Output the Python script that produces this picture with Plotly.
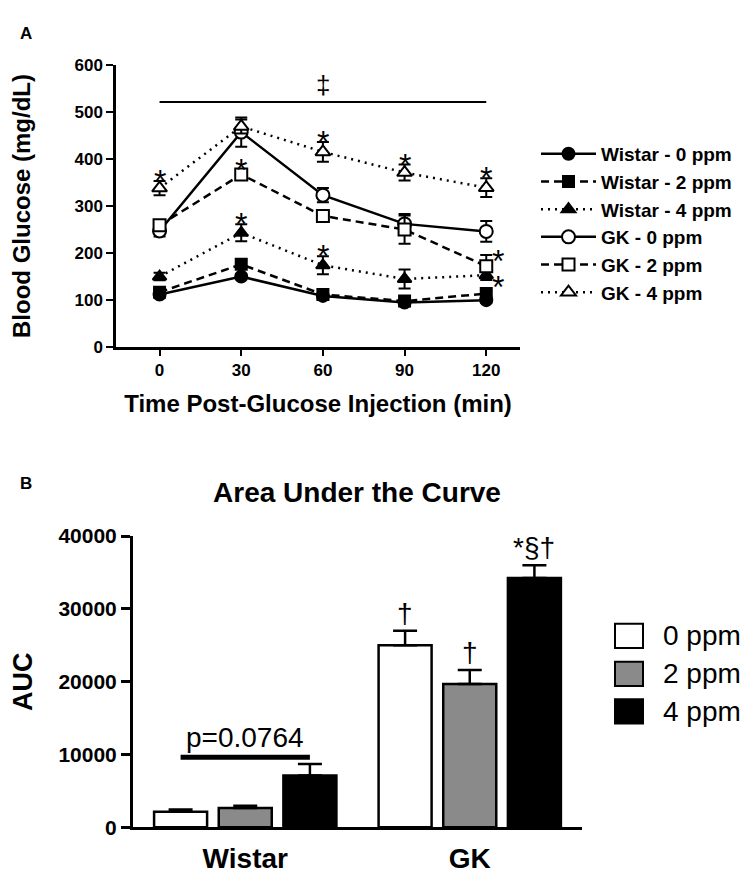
import plotly.graph_objects as go

# ---------------- Panel A data (Blood glucose, mg/dL) ----------------
time_min = [0, 30, 60, 90, 120]
series_names = ["Wistar - 0 ppm", "Wistar - 2 ppm", "Wistar - 4 ppm",
                "GK - 0 ppm", "GK - 2 ppm", "GK - 4 ppm"]
wistar_0 = [112, 150, 109, 95, 100]
wistar_0_sem = [5, 6, 5, 4, 5]
wistar_2 = [117, 176, 112, 98, 114]
wistar_2_sem = [6, 10, 6, 5, 6]
wistar_4 = [150, 243, 174, 145, 153]
wistar_4_sem = [8, 18, 19, 20, 10]
gk_0 = [247, 457, 323, 262, 246]
gk_0_sem = [12, 31, 15, 21, 22]
gk_2 = [259, 367, 279, 250, 172]
gk_2_sem = [8, 10, 10, 30, 24]
gk_4 = [338, 469, 415, 371, 339]
gk_4_sem = [15, 15, 21, 17, 20]
y_ticks_a = [0, 100, 200, 300, 400, 500, 600]

# significance marks: (series index, time index)
stars_above = [(5, 0), (4, 1), (2, 1), (5, 2), (2, 2), (5, 3), (5, 4)]
stars_right = [(4, 4, 199), (2, 4, 143)]
bracket_label = "‡"
bracket_level = 521

# ---------------- Panel B data (AUC) ----------------
auc_groups = ["Wistar", "GK"]
dose_labels = ["0 ppm", "2 ppm", "4 ppm"]
auc_0 = [2150, 25000]
auc_0_sem = [300, 2000]
auc_2 = [2650, 19700]
auc_2_sem = [300, 1900]
auc_4 = [7100, 34250]
auc_4_sem = [1600, 1750]
y_ticks_b = [0, 10000, 20000, 30000, 40000]
bar_marks = [(1, 0, "†"), (1, 1, "†"), (1, 2, "*§†")]  # (group, dose, text)
p_text = "p=0.0764"
p_level = 9630

FONT = "Liberation Sans, Arial, Helvetica, sans-serif"
W, H = 750, 879

values = [wistar_0, wistar_2, wistar_4, gk_0, gk_2, gk_4]
sems = [wistar_0_sem, wistar_2_sem, wistar_4_sem, gk_0_sem, gk_2_sem, gk_4_sem]
dashes = ["solid", "8px,5px", "2px,5px", "solid", "8px,5px", "2px,5px"]
symbols = ["circle", "square", "triangle-up", "circle", "square", "triangle-up"]
fills = ["black", "black", "black", "white", "white", "white"]
msize = [12, 11, 12, 13, 12, 13]

fig = go.Figure()
for i, name in enumerate(series_names):
    fig.add_trace(go.Scatter(
        x=time_min, y=values[i], name=name, mode="lines+markers",
        xaxis="x", yaxis="y", legendgroup=name,
        line=dict(color="black", width=2.5, dash=dashes[i]),
        marker=dict(symbol=symbols[i], size=msize[i], color=fills[i],
                    line=dict(color="black", width=2)),
        error_y=dict(type="data", array=sems[i], color="black", thickness=2, width=6),
    ))

# Panel B bars
auc_vals = [auc_0, auc_2, auc_4]
auc_sems = [auc_0_sem, auc_2_sem, auc_4_sem]
bar_colors = ["white", "#8a8a8a", "black"]
for j, d in enumerate(dose_labels):
    fig.add_trace(go.Bar(
        x=auc_groups, y=auc_vals[j], name=d, xaxis="x2", yaxis="y2",
        showlegend=False,
        marker=dict(color=bar_colors[j], line=dict(color="black", width=2.5)),
        error_y=dict(type="data", symmetric=False, array=auc_sems[j],
                     arrayminus=[0] * len(auc_groups), color="black", thickness=2.5, width=12),
    ))

annotations = []
shapes = []

STAR_FONT = dict(family=FONT, size=32, color="black")
# stars panel A
for s, t in stars_above:
    annotations.append(dict(x=time_min[t], y=values[s][t] + sems[s][t] + 15, xref="x", yref="y",
                            text="*", showarrow=False, yshift=-7, font=STAR_FONT))
for s, t, yv in stars_right:
    annotations.append(dict(x=time_min[t], y=yv, xref="x", yref="y", text="*", showarrow=False,
                            xshift=12, yshift=-7, font=STAR_FONT))
# bracket line
shapes.append(dict(type="line", xref="x", yref="y", x0=time_min[0], x1=time_min[-1],
                   y0=bracket_level, y1=bracket_level, line=dict(color="black", width=2)))
annotations.append(dict(x=(time_min[0] + time_min[-1]) / 2, y=bracket_level, xref="x", yref="y",
                        text=bracket_label, showarrow=False, yanchor="bottom", yshift=0,
                        font=dict(family=FONT, size=26, color="black")))

# Panel B significance marks
bargap = 0.136
slot = (1 - bargap) / 3
for g, d, txt in bar_marks:
    xpos = g + (d - 1) * slot
    top = auc_vals[d][g] + auc_sems[d][g]
    annotations.append(dict(x=xpos, y=top + 2400, xref="x2", yref="y2", text=txt, showarrow=False,
                            font=dict(family=FONT, size=28, color="black")))
shapes.append(dict(type="line", xref="x2", yref="y2", x0=-slot, x1=slot, y0=p_level, y1=p_level,
                   line=dict(color="black", width=5)))
annotations.append(dict(x=0, y=p_level, xref="x2", yref="y2", text=p_text, showarrow=False,
                        yanchor="bottom", yshift=2,
                        font=dict(family=FONT, size=28, color="black")))

# Panel B legend (drawn boxes)
legend_rows_px = [632.5, 671.5, 710]
for j, d in enumerate(dose_labels):
    yc = 1 - legend_rows_px[j] / H
    shapes.append(dict(type="rect", xref="paper", yref="paper",
                       x0=607 / W, x1=635 / W, y0=yc - 12.5 / H, y1=yc + 12.5 / H,
                       fillcolor=bar_colors[j], line=dict(color="black", width=2)))
    annotations.append(dict(x=653 / W, y=yc, xref="paper", yref="paper", text=d, showarrow=False,
                            xanchor="left", yanchor="middle",
                            font=dict(family=FONT, size=28, color="black")))

# panel letters
annotations.append(dict(x=10 / W, y=1 - 14 / H, xref="paper", yref="paper", text="<b>A</b>",
                        showarrow=False, xanchor="left", yanchor="middle",
                        font=dict(family=FONT, size=17, color="black")))
annotations.append(dict(x=10 / W, y=1 - 476 / H, xref="paper", yref="paper", text="<b>B</b>",
                        showarrow=False, xanchor="left", yanchor="middle",
                        font=dict(family=FONT, size=17, color="black")))

axis_common = dict(showline=True, linecolor="black", showgrid=False, zeroline=False,
                   ticks="outside", tickcolor="black")

fig.update_layout(
    width=W, height=H, margin=dict(l=0, r=0, t=0, b=0),
    paper_bgcolor="white", plot_bgcolor="white",
    font=dict(family=FONT, color="black"),
    barmode="group", bargap=bargap, bargroupgap=0.18,
    title=dict(text="Area Under the Curve", x=349 / W, xref="paper", y=1 - 484 / H, yref="container",
               xanchor="center", yanchor="middle",
               font=dict(family=FONT, size=28, color="black", weight="bold")),
    xaxis=dict(domain=[108 / W, 512 / W], range=[-16, 132.4], tickvals=time_min,
               ticklen=6, tickwidth=2, linewidth=2.5,
               tickfont=dict(family=FONT, size=17, weight="bold"),
               title=dict(text="Time Post-Glucose Injection (min)", standoff=16,
                          font=dict(family=FONT, size=24, weight="bold")),
               anchor="y", **axis_common),
    yaxis=dict(domain=[1 - 336 / H, 1 - 46 / H], range=[0, 600], tickvals=y_ticks_a,
               ticklen=7, tickwidth=2, linewidth=2.5,
               tickfont=dict(family=FONT, size=17, weight="bold"),
               title=dict(text="Blood Glucose (mg/dL)", standoff=38,
                          font=dict(family=FONT, size=24, weight="bold")),
               anchor="x", **axis_common),
    xaxis2=dict(domain=[125 / W, 574 / W], type="category", range=[-0.5, 1.5],
                showline=True, linecolor="black", linewidth=3, showgrid=False, zeroline=False,
                ticks="outside", ticklen=4, tickcolor="rgba(0,0,0,0)",
                tickfont=dict(family=FONT, size=28, weight="bold"), anchor="y2"),
    yaxis2=dict(domain=[1 - 829 / H, 1 - 530 / H], range=[0, 40000], tickvals=y_ticks_b,
                tickformat="d", ticklen=9, tickwidth=2.5, linewidth=3,
                tickfont=dict(family=FONT, size=21, weight="bold"),
                title=dict(text="AUC", standoff=30, font=dict(family=FONT, size=27, weight="bold")),
                anchor="x2", **axis_common),
    legend=dict(x=528 / W, y=1 - 118 / H, xanchor="left", yanchor="top",
                bgcolor="rgba(0,0,0,0)", tracegroupgap=0, itemwidth=55,
                font=dict(family=FONT, size=19, color="black", weight="bold")),
    shapes=shapes, annotations=annotations,
)

fig.write_html("out.html")
